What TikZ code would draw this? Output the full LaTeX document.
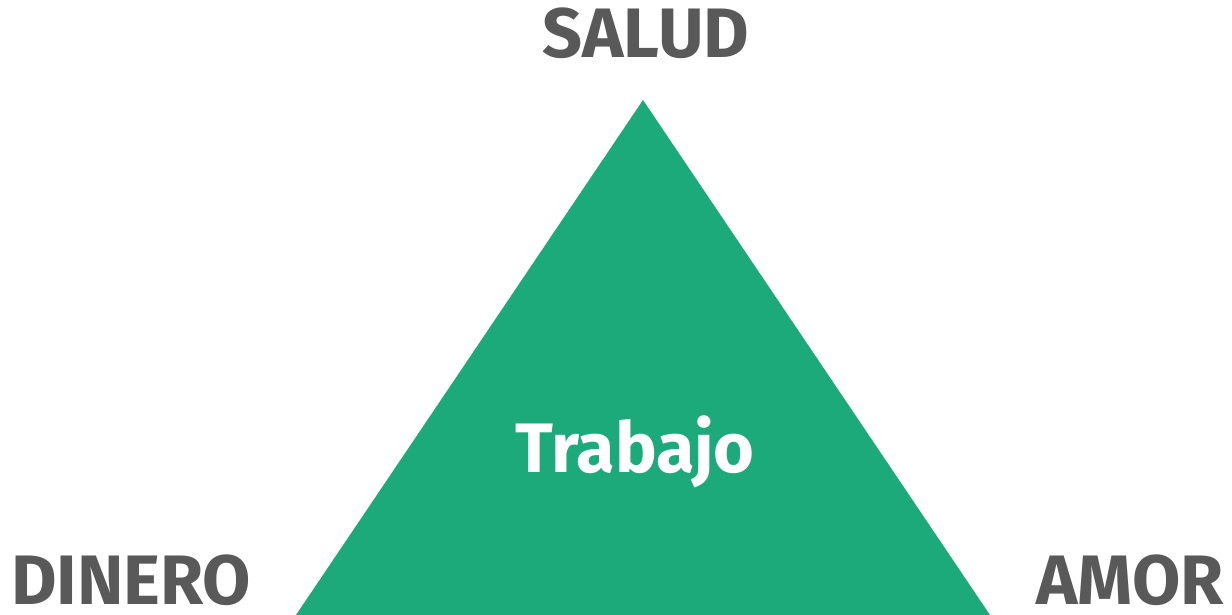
\documentclass[tikz,border=0pt]{standalone}
\usepackage{fontspec}
\setmainfont{Fira Sans}
\definecolor{tri}{HTML}{1DAA7B}
\definecolor{lbl}{HTML}{595959}
\begin{document}
\begin{tikzpicture}[x=1pt,y=-1pt,
  corner/.style={text=lbl,font=\fontsize{70}{70}\selectfont\bfseries,inner sep=0pt,text depth=0pt,anchor=base},
  center/.style={text=white,font=\fontsize{70}{70}\selectfont\bfseries,inner sep=0pt,anchor=base}]
\useasboundingbox (0,0) rectangle (1232,615);
\coordinate (apex) at (643,100);
\coordinate (bl) at (296,615);
\coordinate (br) at (990,615);
\fill[tri] (apex) -- (bl) -- (br) -- cycle;
\node[corner] (salud) at (646,58) {SALUD};
\node[corner] (dinero) at (131,604) {DINERO};
\node[corner] (amor) at (1130,604) {AMOR};
\node[center] (trabajo) at (635,472) {Trabajo};
\end{tikzpicture}
\end{document}
